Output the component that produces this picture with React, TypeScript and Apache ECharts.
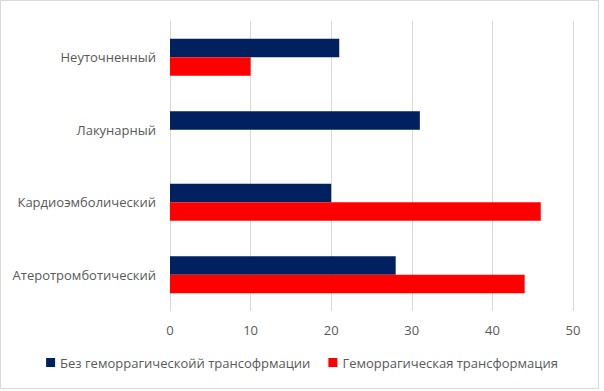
import React, { useEffect, useRef } from "react";
import * as echarts from "echarts";

const categories = ["Атеротромботический", "Кардиоэмболический", "Лакунарный", "Неуточненный"];
const seriesNames = ["Без геморрагическойй трансофрмации", "Геморрагическая трансформация"];
const withoutHT = [28, 20, 31, 21];
const withHT = [44, 46, null, 10];

export default function App() {
  const ref = useRef<HTMLDivElement>(null);
  useEffect(() => {
    const chart = echarts.init(ref.current!, null, { renderer: "svg" });
    chart.setOption({
      animation: false,
      textStyle: { fontFamily: "Open Sans", color: "#595959" },
      graphic: [
        {
          type: "rect",
          shape: { x: 0.5, y: 0.5, width: 598, height: 388 },
          style: { fill: "none", stroke: "#d9d9d9", lineWidth: 1 },
        },
      ],
      legend: {
        bottom: 17,
        left: "center",
        itemWidth: 9,
        itemHeight: 9,
        itemGap: 18,
        icon: "rect",
        textStyle: { fontSize: 13, color: "#595959", fontFamily: "Open Sans" },
        data: seriesNames,
      },
      grid: { left: 170, right: 31, top: 21, bottom: 80, containLabel: false },
      xAxis: {
        type: "value",
        min: 0,
        max: 50,
        interval: 10,
        axisLine: { show: false },
        axisTick: { show: false },
        splitLine: { lineStyle: { color: "#d9d9d9", width: 1 } },
        axisLabel: { fontSize: 13, color: "#595959", margin: 12 },
      },
      yAxis: {
        type: "category",
        data: categories,
        axisLine: { show: true, lineStyle: { color: "#d9d9d9" } },
        axisTick: { show: false },
        axisLabel: { fontSize: 13, color: "#595959", margin: 14 },
      },
      series: [
        {
          name: seriesNames[0],
          type: "bar",
          data: withoutHT,
          itemStyle: { color: "#002060" },
          barGap: "0%",
          barCategoryGap: "49%",
        },
        {
          name: seriesNames[1],
          type: "bar",
          data: withHT,
          itemStyle: { color: "#ff0000" },
          barGap: "0%",
          barCategoryGap: "49%",
        },
      ],
    });
    return () => chart.dispose();
  }, []);
  return (
    <div
      ref={ref}
      style={{ position: "fixed", left: 0, top: 0, width: 604, height: 391, background: "#fff" }}
    />
  );
}
